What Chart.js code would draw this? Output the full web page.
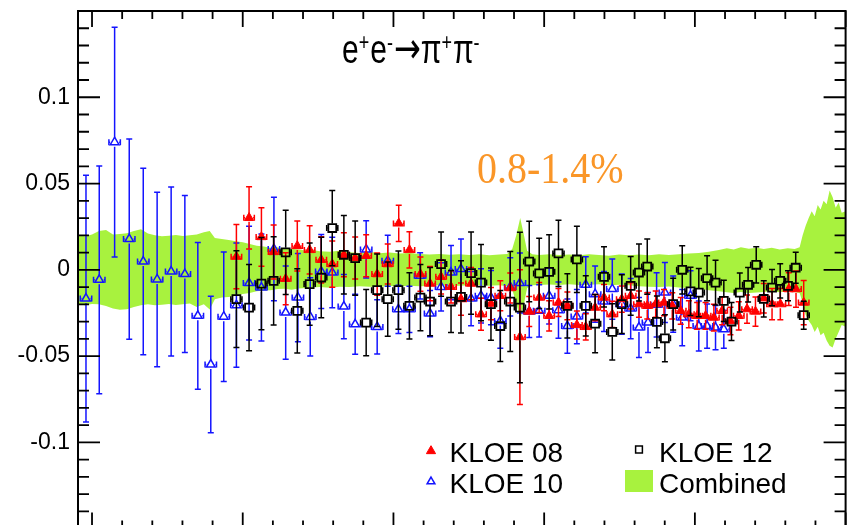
<!DOCTYPE html>
<html>
<head>
<meta charset="utf-8">
<script src="https://cdn.jsdelivr.net/npm/chart.js@4.4.0/dist/chart.umd.min.js"></script>
<style>
html, body { margin: 0; padding: 0; background: #fff; overflow: hidden; }
#wrap { width: 853px; height: 536px; }
</style>
</head>
<body>
<div id="wrap"><canvas id="myChart" width="853" height="536"></canvas></div>
<script>
// x en unidades arbitrarias (marcas mayores en 0,1,...,5)
const xTicks = [0,0.2,0.4,0.6,0.8,1,1.2,1.4,1.6,1.8,2,2.2,2.4,2.6,2.8,3,3.2,3.4,3.6,3.8,4,4.2,4.4,4.6,4.8,5];
const yTicks = [-0.15,-0.14,-0.13,-0.12,-0.11,-0.1,-0.09,-0.08,-0.07,-0.06,-0.05,-0.04,-0.03,-0.02,-0.01,0,
                0.01,0.02,0.03,0.04,0.05,0.06,0.07,0.08,0.09,0.1,0.11,0.12,0.13,0.14,0.15];
const yMajor = [-0.1, -0.05, 0, 0.05, 0.1];
const yLabels = ['-0.1', '-0.05', '0', '0.05', '0.1'];

// KLOE 10
const k10X = [-0.040,0.048,0.150,0.247,0.340,0.432,0.525,0.616,0.702,0.788,
  0.874,0.958,1.042,1.124,1.207,1.285,1.366,1.448,1.521,1.594,
  1.671,1.746,1.819,1.892,1.962,2.033,2.106,2.177,2.243,2.316,
  2.382,2.448,2.515,2.581,2.647,2.709,2.775,2.839,2.901,2.967,
  3.033,3.095,3.154,3.217,3.276,3.338,3.397,3.452,3.515,3.574,
  3.629,3.689,3.746,3.801,3.856,3.916,3.971,4.026,4.081,4.137,4.192];
const k10Y = [-0.0167,-0.0058,0.0740,0.0178,0.0048,-0.0056,-0.0010,-0.0025,-0.0267,-0.0549,
  -0.0272,-0.0205,-0.0077,-0.0103,0.0120,-0.0248,-0.0161,-0.0273,-0.0010,-0.0016,
  -0.0213,-0.0316,0.0118,-0.0331,0.0052,-0.0229,-0.0229,-0.0035,-0.0254,-0.0099,
  -0.0016,0.0004,-0.0167,-0.0151,-0.0161,-0.0297,-0.0099,-0.0077,-0.0242,-0.0238,
  -0.0151,-0.0234,-0.0326,-0.0271,-0.0087,-0.0141,-0.0184,-0.0112,-0.0199,-0.0225,
  -0.0335,-0.0306,-0.0203,-0.0132,-0.0199,-0.0277,-0.0151,-0.0326,-0.0326,-0.0335,-0.0345];
const k10Err = [0.0715,0.066,0.0666,0.058,0.054,0.0506,0.049,0.0455,0.0425,0.0396,
  0.0375,0.036,0.033,0.031,0.030,0.027,0.0256,0.0227,0.0215,0.0204,
  0.0186,0.0174,0.0166,0.0157,0.0148,0.014,0.0134,0.0134,0.0134,0.014,
  0.0157,0.0174,0.0157,0.0157,0.0157,0.0157,0.0169,0.0174,0.0151,0.0151,
  0.0163,0.0163,0.0157,0.0157,0.0163,0.0163,0.0174,0.0174,0.0174,0.0174,
  0.0174,0.0174,0.0186,0.0174,0.0163,0.0163,0.0145,0.0145,0.0128,0.0128,0.011];

// KLOE 08
const k08X = [0.958,1.042,1.124,1.205,1.285,1.362,1.444,1.521,1.594,1.671,
  1.746,1.819,1.892,1.962,2.035,2.106,2.179,2.243,2.316,2.382,
  2.448,2.515,2.581,2.647,2.709,2.775,2.839,2.901,2.967,3.033,
  3.095,3.154,3.217,3.276,3.338,3.397,3.452,3.515,3.574,3.629,
  3.684,3.740,3.795,3.850,3.906,3.960,4.015,4.071,4.126,4.181,
  4.236,4.291,4.346,4.402,4.457,4.512,4.567,4.623,4.671,4.722];
const k08Y = [0.0076,0.0301,0.0190,0.0103,-0.0052,0.0138,0.0115,0.0058,0.0033,0.0087,
  0.0068,0.0081,-0.0025,0.0033,0.0269,0.0115,-0.0025,-0.0080,-0.0041,-0.0099,
  -0.0170,-0.0080,-0.0258,-0.0196,-0.0151,-0.0106,-0.0390,-0.0242,-0.0161,-0.0267,
  -0.0190,-0.0209,-0.0320,-0.0331,-0.0219,-0.0161,-0.0258,-0.0170,-0.0151,-0.0199,
  -0.0209,-0.0199,-0.0190,-0.0209,-0.0238,-0.0258,-0.0267,-0.0267,-0.0277,-0.0238,
  -0.0297,-0.0267,-0.0228,-0.0242,-0.0165,-0.0199,-0.0199,-0.0112,-0.0112,-0.0190];
const k08Err = [0.0186,0.018,0.0169,0.0157,0.0151,0.0145,0.014,0.0134,0.0134,0.0128,
  0.0122,0.0122,0.0122,0.0116,0.0105,0.0105,0.0099,0.0099,0.0099,0.0093,
  0.0093,0.0093,0.0093,0.0093,0.0087,0.0087,0.039,0.0087,0.0087,0.0087,
  0.0081,0.0081,0.0081,0.0076,0.0076,0.0076,0.0076,0.0076,0.0076,0.0076,
  0.0076,0.0076,0.0076,0.0076,0.0078,0.0078,0.0078,0.0078,0.0078,0.008,
  0.008,0.0082,0.0082,0.0085,0.0085,0.009,0.009,0.0095,0.0105,0.0128];

// KLOE 12
const k12X = [0.958,1.042,1.124,1.205,1.285,1.362,1.444,1.521,1.594,1.671,
  1.746,1.819,1.892,1.962,2.033,2.106,2.179,2.243,2.316,2.382,
  2.448,2.515,2.581,2.647,2.709,2.775,2.839,2.901,2.967,3.033,
  3.095,3.154,3.217,3.276,3.338,3.397,3.452,3.515,3.574,3.629,
  3.684,3.748,3.801,3.856,3.916,3.971,4.026,4.081,4.137,4.192,
  4.243,4.298,4.353,4.407,4.457,4.512,4.566,4.618,4.669,4.722];
const k12Y = [-0.0170,-0.0219,-0.0080,-0.0064,0.0101,-0.0238,-0.0083,-0.0045,0.0242,0.0087,
  0.0068,-0.0306,-0.0118,-0.0170,-0.0118,-0.0209,-0.0161,-0.0184,0.0033,-0.0184,
  -0.0157,-0.0019,-0.0074,-0.0199,-0.0326,-0.0184,-0.0219,0.0048,-0.0021,-0.0012,
  0.0095,-0.0209,0.0060,-0.0209,-0.0312,-0.0041,-0.0360,-0.0199,-0.0093,-0.0016,
  0.0019,-0.0302,-0.0397,-0.0199,0.0000,-0.0125,-0.0132,-0.0049,-0.0074,-0.0180,
  -0.0300,-0.0132,-0.0087,0.0029,-0.0169,-0.0103,-0.0064,-0.0093,0.0012,-0.0263];
const k12Err = [0.028,0.025,0.0267,0.0256,0.0244,0.0244,0.0238,0.0233,0.0218,0.0227,
  0.0215,0.0192,0.021,0.0215,0.0227,0.0192,0.0192,0.0198,0.0186,0.018,
  0.021,0.0238,0.0221,0.021,0.0206,0.029,0.0436,0.0233,0.0204,0.0215,
  0.0192,0.0186,0.0192,0.0174,0.0169,0.0174,0.0163,0.017,0.017,0.0165,
  0.016,0.015,0.0136,0.015,0.014,0.014,0.014,0.013,0.013,0.012,
  0.011,0.0113,0.010,0.0105,0.0105,0.0105,0.0099,0.0087,0.009,0.0081];

// banda combinada (borde superior / inferior)
const bandX = [-0.093,-0.046,0.000,0.046,0.093,0.139,0.185,0.232,0.278,0.325,
  0.371,0.417,0.464,0.510,0.556,0.603,0.649,0.695,0.742,0.781,
  0.815,0.861,0.907,0.954,1.000,1.046,1.093,1.139,1.185,1.232,
  1.278,1.325,1.371,1.417,1.464,1.510,1.576,1.642,1.709,1.775,
  1.841,1.907,1.974,2.040,2.106,2.172,2.238,2.305,2.371,2.437,
  2.503,2.570,2.636,2.702,2.755,2.788,2.815,2.841,2.861,2.887,
  2.921,2.967,3.033,3.099,3.166,3.232,3.298,3.364,3.430,3.497,
  3.563,3.629,3.695,3.762,3.828,3.894,3.960,4.026,4.093,4.159,
  4.212,4.258,4.305,4.358,4.411,4.457,4.510,4.563,4.616,4.662,
  4.695,4.715,4.735,4.755,4.775,4.795,4.815,4.834,4.854,4.874,
  4.894,4.914,4.934,4.954,4.974,5.000];
const bandUp = [0.0200,0.0195,0.0205,0.0225,0.0230,0.0205,0.0208,0.0212,0.0225,0.0235,
  0.0210,0.0200,0.0195,0.0198,0.0202,0.0196,0.0200,0.0205,0.0218,0.0225,
  0.0185,0.0178,0.0172,0.0165,0.0160,0.0150,0.0140,0.0135,0.0128,0.0130,
  0.0124,0.0120,0.0118,0.0112,0.0115,0.0108,0.0105,0.0110,0.0102,0.0098,
  0.0104,0.0096,0.0100,0.0094,0.0098,0.0092,0.0088,0.0092,0.0087,0.0090,
  0.0086,0.0090,0.0085,0.0088,0.0092,0.0120,0.0200,0.0300,0.0220,0.0110,
  0.0090,0.0086,0.0090,0.0086,0.0088,0.0084,0.0090,0.0086,0.0082,0.0088,
  0.0085,0.0088,0.0084,0.0090,0.0086,0.0090,0.0094,0.0098,0.0105,0.0115,
  0.0125,0.0118,0.0130,0.0122,0.0128,0.0120,0.0128,0.0118,0.0125,0.0120,
  0.0130,0.0200,0.0255,0.0300,0.0340,0.0310,0.0375,0.0350,0.0400,0.0380,
  0.0460,0.0420,0.0360,0.0390,0.0330,0.0340];
const bandLo = [-0.0200,-0.0205,-0.0198,-0.0200,-0.0210,-0.0225,-0.0232,-0.0228,-0.0215,-0.0205,
  -0.0200,-0.0205,-0.0202,-0.0198,-0.0204,-0.0200,-0.0195,-0.0215,-0.0200,-0.0230,
  -0.0170,-0.0160,-0.0158,-0.0150,-0.0140,-0.0135,-0.0125,-0.0120,-0.0118,-0.0112,
  -0.0110,-0.0115,-0.0108,-0.0105,-0.0102,-0.0100,-0.0104,-0.0098,-0.0100,-0.0095,
  -0.0098,-0.0100,-0.0094,-0.0096,-0.0092,-0.0096,-0.0094,-0.0090,-0.0094,-0.0092,
  -0.0090,-0.0088,-0.0092,-0.0090,-0.0095,-0.0115,-0.0190,-0.0290,-0.0220,-0.0105,
  -0.0090,-0.0088,-0.0085,-0.0088,-0.0084,-0.0088,-0.0086,-0.0084,-0.0090,-0.0086,
  -0.0090,-0.0095,-0.0098,-0.0100,-0.0097,-0.0102,-0.0105,-0.0110,-0.0118,-0.0125,
  -0.0130,-0.0135,-0.0128,-0.0135,-0.0132,-0.0128,-0.0125,-0.0130,-0.0124,-0.0128,
  -0.0135,-0.0190,-0.0260,-0.0295,-0.0320,-0.0360,-0.0330,-0.0380,-0.0365,-0.0410,
  -0.0440,-0.0450,-0.0400,-0.0360,-0.0320,-0.0330];

const verde = 'rgb(168,242,62)';
const azul = 'rgb(20,20,255)';
const rojo = 'rgb(255,0,0)';
const FONT = '"Liberation Sans", Arial, Helvetica, sans-serif';

const pts = (xs, ys) => xs.map((x, i) => ({ x: x, y: ys[i] }));

// barras de error (vertical + horizontal), con hueco en el marcador como ROOT
const errBars = {
  id: 'errBars',
  beforeDatasetDraw(chart, args) {
    const ds = chart.data.datasets[args.index];
    if (!ds.errY) return;
    const ctx = chart.ctx, xs = chart.scales.x, ys = chart.scales.y, a = chart.chartArea;
    const g = ds.errGap;
    ctx.save();
    ctx.beginPath();
    ctx.rect(a.left, a.top, a.right - a.left, a.bottom - a.top);
    ctx.clip();
    ctx.strokeStyle = ds.borderColor;
    ctx.lineWidth = 1.5;
    ds.data.forEach((p, i) => {
      const px = xs.getPixelForValue(p.x), py = ys.getPixelForValue(p.y);
      const top = ys.getPixelForValue(p.y + ds.errY[i]);
      const bot = ys.getPixelForValue(p.y - ds.errY[i]);
      const l = xs.getPixelForValue(p.x - ds.errX), r = xs.getPixelForValue(p.x + ds.errX);
      ctx.beginPath();
      if (top < py - g) { ctx.moveTo(px, top); ctx.lineTo(px, py - g); }
      if (bot > py + g) { ctx.moveTo(px, py + g); ctx.lineTo(px, bot); }
      ctx.moveTo(px - 3, top); ctx.lineTo(px + 3, top);
      ctx.moveTo(px - 3, bot); ctx.lineTo(px + 3, bot);
      if (l < px - g) { ctx.moveTo(l, py); ctx.lineTo(px - g, py); }
      if (r > px + g) { ctx.moveTo(px + g, py); ctx.lineTo(r, py); }
      ctx.moveTo(l, py - 3); ctx.lineTo(l, py + 3);
      ctx.moveTo(r, py - 3); ctx.lineTo(r, py + 3);
      ctx.stroke();
    });
    ctx.restore();
  }
};

// marco y marcas hacia dentro (estilo ROOT)
const frame = {
  id: 'frame',
  afterDatasetsDraw(chart) {
    const { ctx, chartArea: a, scales: { x, y } } = chart;
    ctx.save();
    ctx.strokeStyle = '#000';
    ctx.lineWidth = 2;
    ctx.strokeRect(a.left, a.top, a.right - a.left, a.bottom - a.top);
    ctx.lineWidth = 1.8;
    ctx.beginPath();
    y.ticks.forEach(t => {
      const py = y.getPixelForValue(t.value);
      const major = yMajor.some(m => Math.abs(m - t.value) < 1e-6);
      const len = major ? 22 : 11;
      ctx.moveTo(a.left, py); ctx.lineTo(a.left + len, py);
      ctx.moveTo(a.right, py); ctx.lineTo(a.right - len, py);
    });
    x.ticks.forEach(t => {
      const px = x.getPixelForValue(t.value);
      const len = Math.abs(t.value - Math.round(t.value)) < 1e-6 ? 16 : 8;
      ctx.moveTo(px, a.top); ctx.lineTo(px, a.top + len);
      ctx.moveTo(px, a.bottom); ctx.lineTo(px, a.bottom - len);
    });
    ctx.stroke();
    ctx.restore();
  }
};

function marker(ctx, style, r, x, y, fill, stroke, lw) {
  ctx.fillStyle = fill;
  ctx.strokeStyle = stroke;
  ctx.lineWidth = lw;
  Chart.helpers.drawPoint(ctx, { pointStyle: style, radius: r, rotation: 0, borderWidth: lw }, x, y);
}

// titulo, etiqueta naranja y leyenda
const textos = {
  id: 'textos',
  afterDraw(chart) {
    const ctx = chart.ctx;
    ctx.save();
    ctx.fillStyle = '#000';
    ctx.textBaseline = 'alphabetic';
    ctx.translate(342, 63);
    ctx.scale(1, 1.35);
    // [texto, superindice, fuente]
    const partes = [['e', 0], ['+', 1], ['e', 0], ['-', 1], ['\u2192', 2], ['\u03c0', 0], ['+', 1], ['\u03c0', 0], ['-', 1]];
    let cx = 0;
    partes.forEach(p => {
      if (p[1] === 2) ctx.font = '32px "DejaVu Sans", sans-serif';
      else ctx.font = (p[1] ? 18 : 30) + 'px ' + FONT;
      ctx.fillText(p[0], cx, p[1] === 1 ? -10 : 0);
      cx += ctx.measureText(p[0]).width + (p[1] === 1 ? 1 : 0);
    });
    ctx.restore();

    ctx.save();
    ctx.fillStyle = 'rgb(250,150,40)';
    ctx.font = '40px "Liberation Serif", "Times New Roman", serif';
    ctx.translate(477, 183);
    ctx.scale(1, 1.12);
    ctx.fillText('0.8-1.4%', 0, 0);
    ctx.restore();

    ctx.save();
    marker(ctx, 'triangle', 5.3, 431, 451, rojo, rojo, 1);
    marker(ctx, 'triangle', 4.5, 431, 481.5, 'rgba(0,0,0,0)', azul, 1.5);
    marker(ctx, 'rect', 4.8, 639, 449.5, 'rgba(0,0,0,0)', '#000', 1.5);
    ctx.fillStyle = verde;
    ctx.fillRect(625, 470, 28, 22);
    ctx.fillStyle = '#000';
    ctx.font = '28px ' + FONT;
    ctx.fillText('KLOE 08', 449.5, 461.5);
    ctx.fillText('KLOE 10', 449.5, 493);
    ctx.fillText('KLOE 12', 659, 461.5);
    ctx.fillText('Combined', 659, 493);
    ctx.restore();
  }
};

const data = {
  datasets: [
    { label: 'Combined', data: pts(bandX, bandUp), showLine: true, fill: '+1',
      backgroundColor: verde, borderColor: 'rgba(0,0,0,0)', borderWidth: 0, pointRadius: 0, tension: 0, order: 10 },
    { label: 'Combined low', data: pts(bandX, bandLo), showLine: true, fill: false,
      borderColor: 'rgba(0,0,0,0)', borderWidth: 0, pointRadius: 0, tension: 0, order: 9 },
    { label: 'KLOE 10', data: pts(k10X, k10Y), errY: k10Err, errX: 0.038, errGap: 4.5,
      pointStyle: 'triangle', pointRadius: 5, borderWidth: 1.5, borderColor: azul,
      backgroundColor: 'rgba(0,0,0,0)', order: 3 },
    { label: 'KLOE 08', data: pts(k08X, k08Y), errY: k08Err, errX: 0.035, errGap: 4,
      pointStyle: 'triangle', pointRadius: 5.3, borderWidth: 1, borderColor: rojo,
      backgroundColor: rojo, order: 2 },
    { label: 'KLOE 12', data: pts(k12X, k12Y), errY: k12Err, errX: 0.037, errGap: 4.5,
      pointStyle: 'rect', pointRadius: 5.6, borderWidth: 1.8, borderColor: '#000',
      backgroundColor: 'rgba(0,0,0,0)', order: 1 }
  ]
};

const options = {
  responsive: false,
  animation: false,
  devicePixelRatio: 1,
  layout: { padding: { top: 11, right: 6, bottom: 3, left: 0 } },
  plugins: { legend: { display: false }, tooltip: { enabled: false } },
  scales: {
    x: {
      type: 'linear', min: -0.093, max: 5.0,
      afterBuildTicks: s => { s.ticks = xTicks.map(v => ({ value: v })); },
      afterFit: s => { s.height = 0; s.paddingLeft = 0; s.paddingRight = 0; },
      ticks: { display: false },
      grid: { display: false, drawTicks: false },
      border: { display: false }
    },
    y: {
      type: 'linear', min: -0.15, max: 0.15,
      afterBuildTicks: s => { s.ticks = yTicks.map(v => ({ value: v })); },
      afterFit: s => { s.width = 78; s.paddingTop = 0; s.paddingBottom = 0; },
      grid: { display: false, drawTicks: false },
      border: { display: false },
      ticks: {
        autoSkip: false, padding: 8, color: '#000',
        font: { family: FONT, size: 23 },
        callback: v => {
          const i = yMajor.findIndex(m => Math.abs(m - v) < 1e-6);
          return i >= 0 ? yLabels[i] : '';
        }
      }
    }
  }
};

const myChart = new Chart(document.getElementById('myChart'), {
  type: 'scatter',
  data: data,
  options: options,
  plugins: [errBars, frame, textos]
});
</script>
</body>
</html>
